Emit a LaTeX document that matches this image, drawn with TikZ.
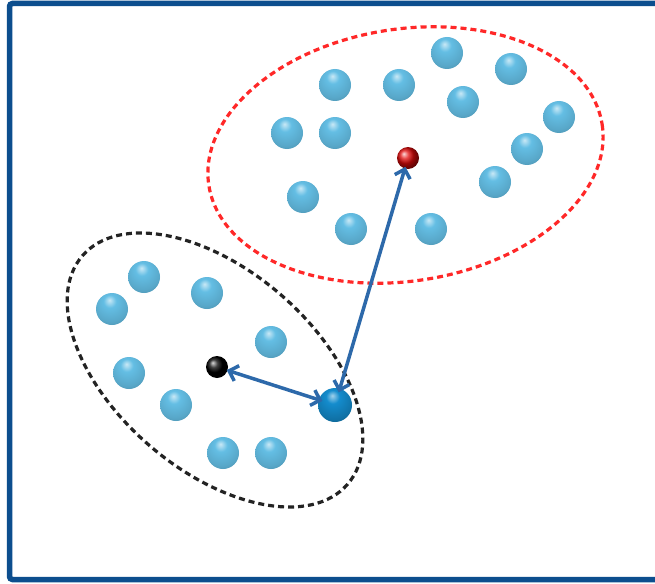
\documentclass[tikz,border=0pt]{standalone}
\usetikzlibrary{arrows.meta,shapes.geometric}
\definecolor{framecol}{RGB}{12,78,142}
\definecolor{ballblue}{RGB}{100,190,228}
\definecolor{bigblue}{RGB}{20,140,205}
\definecolor{arrowcol}{RGB}{45,105,170}
\definecolor{redball}{RGB}{225,10,10}
\definecolor{dashred}{RGB}{255,40,40}
\definecolor{dashblack}{RGB}{35,35,35}
\pgfdeclareradialshading{lightball}{\pgfqpoint{-4bp}{14bp}}{%
  color(0bp)=(ballblue!35!white); color(10bp)=(ballblue);
  color(28bp)=(ballblue!88!black); color(44bp)=(ballblue!70!black);
  color(56bp)=(ballblue!85!white); color(70bp)=(ballblue!85!white)}
\pgfdeclareradialshading{darkball}{\pgfqpoint{-4bp}{14bp}}{%
  color(0bp)=(bigblue!40!white); color(10bp)=(bigblue);
  color(30bp)=(bigblue!80!black); color(46bp)=(bigblue!45!black);
  color(56bp)=(bigblue); color(70bp)=(bigblue)}
\tikzset{
  ball/.style={circle, minimum size=32pt, inner sep=0pt, shading=lightball},
  bigball/.style={circle, minimum size=34pt, inner sep=0pt, shading=darkball},
  smallball/.style={circle, minimum size=22pt, inner sep=0pt, shading=ball},
  cluster/.style={line width=3.2pt, dash pattern=on 6pt off 4pt},
  link/.style={arrowcol, line width=3.5pt, {Straight Barb[length=8pt,width=16pt]}-{Straight Barb[length=8pt,width=16pt]}}
}
\begin{document}
\begin{tikzpicture}[x=1pt,y=-1pt]
\useasboundingbox (0,0) rectangle (655,583);
\fill[white] (0,0) rectangle (655,583);
% frame
\draw[framecol, line width=5.5pt, rounded corners=3pt] (9.5,3.5) rectangle (665,579.5);
% cluster outlines
\draw[cluster, dashred, rotate around={8.8:(405.5,155)}] (405.5,155) ellipse [x radius=199, y radius=126];
\draw[cluster, dashblack, rotate around={-40.7:(215,370)}] (215,370) ellipse [x radius=175, y radius=100];
% red cluster balls
\node[ball] (r1) at (335,85) {};
\node[ball] (r2) at (399,85) {};
\node[ball] (r3) at (447,53) {};
\node[ball] (r4) at (511,69) {};
\node[ball] (r5) at (463,102) {};
\node[ball] (r6) at (559,117) {};
\node[ball] (r7) at (527,149) {};
\node[ball] (r8) at (495,182) {};
\node[ball] (r9) at (287,133) {};
\node[ball] (r10) at (335,133) {};
\node[ball] (r11) at (303,197) {};
\node[ball] (r12) at (351,229) {};
\node[ball] (r13) at (431,229) {};
\node[smallball, ball color=redball] (rc) at (408,158) {};
% black cluster balls
\node[ball] (b1) at (144,277) {};
\node[ball] (b2) at (112,309) {};
\node[ball] (b3) at (207,293) {};
\node[ball] (b4) at (271,342) {};
\node[ball] (b5) at (129,373) {};
\node[ball] (b6) at (176,405) {};
\node[ball] (b7) at (223,453) {};
\node[ball] (b8) at (271,453) {};
\node[smallball, ball color=black] (bc) at (217,367) {};
% query ball
\node[bigball] (q) at (335,405) {};
% distances
\draw[link, shorten >=-4pt, shorten <=-1pt] (bc) -- (q);
\draw[link, shorten <=-4pt, shorten >=-2pt] (q) -- (rc);
\end{tikzpicture}
\end{document}
